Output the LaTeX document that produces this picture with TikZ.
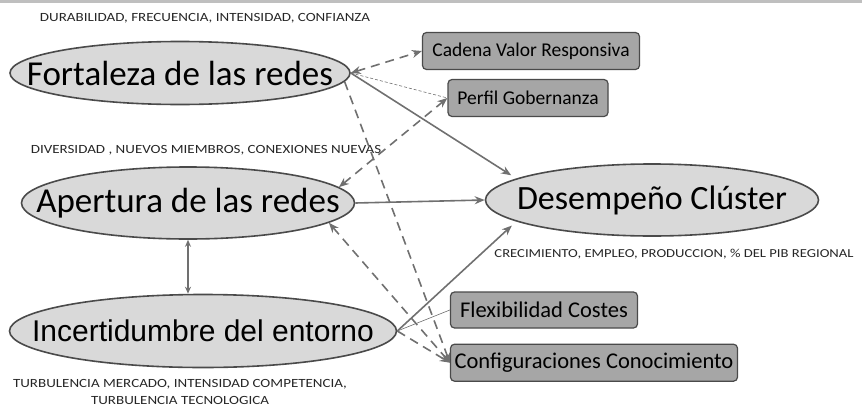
\documentclass[tikz,border=0pt]{standalone}
\usepackage{fontspec}
\setmainfont{Carlito}
\newfontfamily\arialfont{Liberation Sans}
\newfontfamily\widefont[FakeStretch=1.2]{Carlito}
\usetikzlibrary{shapes.geometric,positioning,arrows.meta}

\definecolor{rimgray}{HTML}{4A4A4A}
\definecolor{bubblefill}{HTML}{D9D9D9}
\definecolor{boxfill}{HTML}{A6A6A6}
\definecolor{linkgray}{HTML}{707070}

\begin{document}
\begin{tikzpicture}[x=1pt,y=-1pt,
    bubble/.style={ellipse,draw=rimgray,line width=1.6pt,fill=bubblefill,inner xsep=-80pt,inner ysep=-30pt,font=\fontsize{35}{35}\selectfont},
    factor/.style={rectangle,rounded corners=4pt,draw=rimgray,line width=1.2pt,fill=boxfill,inner sep=0pt,minimum height=37pt,font=\fontsize{19.5}{19.5}\selectfont},
    note/.style={inner sep=0pt,text=black!85,font=\widefont\fontsize{12.5}{17}\selectfont},
    link/.style={-{Stealth[length=10pt,width=8pt]},draw=linkgray,line width=1.6pt},
    dlink/.style={link,dash pattern=on 9pt off 6pt},
    thinlink/.style={draw=linkgray,line width=0.6pt}]
		\useasboundingbox (0,0) rectangle (862,407);
		\fill[black!25] (0,0) rectangle (862,2.5);

		% ellipses
		\node[bubble,minimum width=340pt,minimum height=63pt] (fort) at (180,73) {Fortaleza de las redes};
		\node[bubble,minimum width=333pt,minimum height=72pt] (ape) at (188,203) {Apertura de las redes};
		\node[bubble,minimum width=387pt,minimum height=73pt,font=\arialfont\fontsize{30}{30}\selectfont] (inc) at (203,331) {Incertidumbre del entorno};
		\node[bubble,minimum width=333pt,minimum height=72pt,font=\fontsize{34}{34}\selectfont] (des) at (652,200) {Desempeño Clúster};

		% boxes
		\node[factor,minimum width=217pt] (cad) at (531,51) {Cadena Valor Responsiva};
		\node[factor,minimum width=160pt] (perf) at (528,98) {Perfil Gobernanza};
		\node[factor,minimum width=187pt,minimum height=36pt,font=\fontsize{22.5}{22.5}\selectfont] (flex) at (544,310) {Flexibilidad Costes};
		\node[factor,minimum width=287pt,font=\fontsize{22.5}{22.5}\selectfont] (conf) [below=15pt of flex.south west,anchor=north west] {Configuraciones Conocimiento};

		% labels
		\node[note] (durlbl) at (205,18) {DURABILIDAD, FRECUENCIA, INTENSIDAD, CONFIANZA};
		\node[note] (divlbl) at (206,150) {DIVERSIDAD , NUEVOS MIEMBROS, CONEXIONES NUEVAS};
		\node[note,font=\widefont\fontsize{12.2}{17}\selectfont] (crelbl) at (674,254) {CRECIMIENTO, EMPLEO, PRODUCCION, \% DEL PIB REGIONAL};
		\node[note,align=center] (turlbl) at (180,392) {TURBULENCIA MERCADO, INTENSIDAD COMPETENCIA,\\TURBULENCIA TECNOLOGICA};

		% connectors
		\draw[link,shorten >=6pt] (fort.east) -- (des.171);
		\draw[link] (ape.east) -- (des.west);
		\draw[link,shorten >=6pt] (inc.east) -- (des.189);
		\draw[link,line width=1.2pt,{Stealth[length=7pt,width=6pt]}-{Stealth[length=7pt,width=6pt]}] (ape.south) -- (ape.south |- inc.north);

		\draw[dlink,{Stealth[length=10pt,width=8pt]}-{Stealth[length=10pt,width=8pt]}] (fort.east) -- (cad.west);
		\draw[thinlink,dash pattern=on 3pt off 2pt] (fort.east) -- (perf.west);
		\draw[dlink] (fort.-3) -- (conf.west);
		\draw[dlink,{Stealth[length=10pt,width=8pt]}-{Stealth[length=10pt,width=8pt]}] (ape.6) -- (perf.west);
		\draw[dlink,{Stealth[length=10pt,width=8pt]}-{Stealth[length=10pt,width=8pt]}] (ape.-8) -- (conf.west);
		\draw[dlink] (inc.east) -- (conf.west);
		\draw[thinlink] (inc.east) -- (flex.west);
	\end{tikzpicture}
\end{document}
